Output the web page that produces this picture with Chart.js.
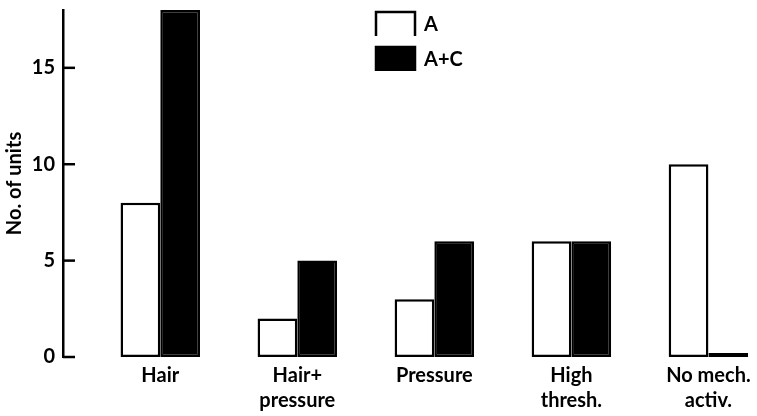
<!DOCTYPE html>
<html>
<head>
<meta charset="utf-8">
<script src="https://cdn.jsdelivr.net/npm/chart.js@4.4.0/dist/chart.umd.min.js"></script>
<style>
  html, body { margin: 0; padding: 0; background: #fff; }
  #wrap { width: 757px; height: 416px; }
</style>
</head>
<body>
<div id="wrap"><canvas id="unitsChart"></canvas></div>
<script>
'use strict';

const categories = [['Hair'], ['Hair+', 'pressure'], ['Pressure'], ['High', 'thresh.'], ['No mech.', 'activ.']];
const seriesNames = ['A', 'A+C'];
const valuesA = [8, 2, 3, 6, 10];
const valuesAC = [18, 5, 6, 6, 0];
const yTicks = [0, 5, 10, 15];
const yMax = 18;

// x runs on index values so the groups can sit off-centre like the original
const xMin = -0.71;
const xMax = 4.31;

const font = { family: 'Lato, "Open Sans", sans-serif', size: 20, weight: 'bold', lineHeight: 1.25 };

// short tick marks pointing into the plot
const inwardTicks = {
  id: 'inwardTicks',
  afterDraw(chart) {
    const { ctx, chartArea, scales: { y } } = chart;
    ctx.save();
    ctx.strokeStyle = '#000';
    ctx.lineWidth = 2.5;
    y.ticks.forEach(t => {
      const py = y.getPixelForValue(t.value);
      ctx.beginPath();
      ctx.moveTo(chartArea.left, py);
      ctx.lineTo(chartArea.left + 12, py);
      ctx.stroke();
    });
    ctx.restore();
  }
};

const legendBoxes = {
  id: 'legendBoxes',
  afterDraw(chart) {
    const ctx = chart.ctx;
    ctx.save();
    chart.data.datasets.forEach((ds, i) => {
      const x = 376, y = 12 + i * 35, w = 39, h = 24;
      ctx.fillStyle = ds.backgroundColor;
      ctx.fillRect(x, y, w, h);
      ctx.strokeStyle = ds.borderColor;
      ctx.lineWidth = 2.5;
      ctx.beginPath();
      ctx.moveTo(x, y + h);
      ctx.lineTo(x, y);
      ctx.lineTo(x + w, y);
      ctx.lineTo(x + w, y + h);
      ctx.stroke();
      ctx.fillStyle = '#000';
      ctx.font = `${font.weight} ${font.size}px ${font.family}`;
      ctx.textBaseline = 'middle';
      ctx.fillText(ds.label, x + w + 9, y + h / 2 + 1);
    });
    ctx.restore();
  }
};

new Chart(document.getElementById('unitsChart'), {
  type: 'bar',
  data: {
    datasets: [
      {
        label: seriesNames[0],
        data: valuesA.map((v, i) => ({ x: i, y: v })),
        backgroundColor: '#fff',
        borderColor: '#000',
        borderWidth: 2.5,
        borderSkipped: false
      },
      {
        label: seriesNames[1],
        data: valuesAC.map((v, i) => ({ x: i, y: v })),
        backgroundColor: '#000',
        borderColor: '#000',
        borderWidth: 2.5,
        borderSkipped: false,
        minBarLength: 4
      }
    ]
  },
  options: {
    responsive: true,
    maintainAspectRatio: false,
    animation: false,
    categoryPercentage: 0.58,
    barPercentage: 1,
    layout: { padding: { top: 10, right: 5, left: 0, bottom: 0 } },
    plugins: {
      legend: { display: false },
      tooltip: { enabled: false }
    },
    scales: {
      x: {
        type: 'linear',
        offset: false,
        min: xMin,
        max: xMax,
        grid: { display: false, drawTicks: false },
        border: { display: false },
        afterBuildTicks: scale => { scale.ticks = categories.map((c, i) => ({ value: i })); },
        afterFit: scale => { scale.height = 59; },
        ticks: {
          autoSkip: false,
          maxRotation: 0,
          padding: 6,
          color: '#000',
          font: font,
          callback: v => categories[v]
        }
      },
      y: {
        min: 0,
        max: yMax,
        grid: { display: false, drawTicks: false },
        border: { display: true, color: '#000', width: 2.5 },
        afterBuildTicks: scale => { scale.ticks = yTicks.map(v => ({ value: v })); },
        afterFit: scale => {
          scale.width = 63;
          scale.paddingTop = 0;
          scale.paddingBottom = 0;
        },
        ticks: { padding: 8, color: '#000', font: font },
        title: {
          display: true,
          text: 'No. of units',
          color: '#000',
          font: font,
          padding: { top: 2, bottom: 0 }
        }
      }
    }
  },
  plugins: [inwardTicks, legendBoxes]
});
</script>
</body>
</html>
